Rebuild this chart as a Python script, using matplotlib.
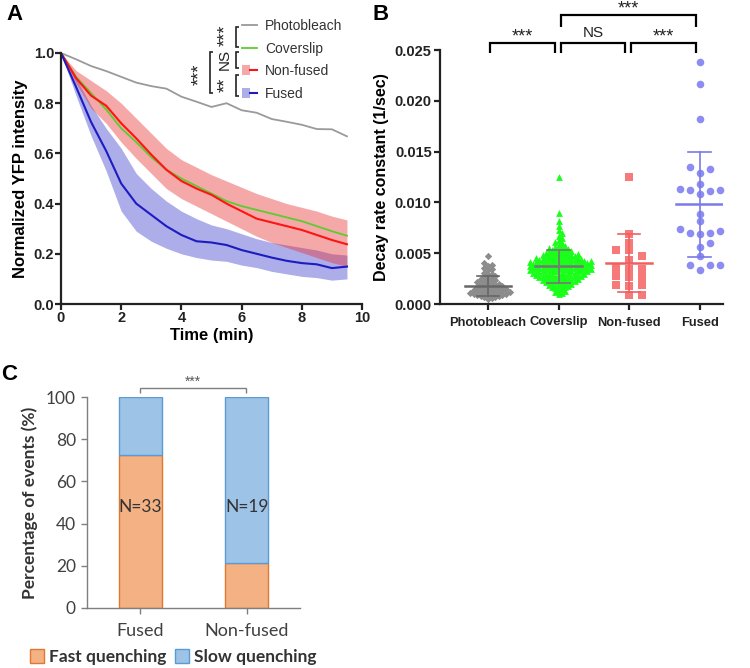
import numpy as np
import matplotlib
matplotlib.use("Agg")
from matplotlib import pyplot as plt
from matplotlib.lines import Line2D
from matplotlib.patches import Patch
from matplotlib.legend_handler import HandlerTuple

# ---------------- data: panel A (decay curves) ----------------
t = [0, 0.5, 1, 1.5, 2, 2.5, 3, 3.5, 4, 4.5, 5, 5.5, 6, 6.5, 7, 7.5, 8, 8.5, 9, 9.5]
photobleach = [1.0, 0.975, 0.948, 0.928, 0.905, 0.882, 0.868, 0.858, 0.826, 0.806,
               0.785, 0.800, 0.772, 0.762, 0.737, 0.726, 0.714, 0.697, 0.696, 0.668]
coverslip = [1.0, 0.905, 0.84, 0.775, 0.70, 0.645, 0.585, 0.535, 0.50, 0.47,
             0.44, 0.41, 0.39, 0.375, 0.36, 0.345, 0.33, 0.31, 0.29, 0.272]
nonfused = [1.0, 0.90, 0.83, 0.79, 0.72, 0.66, 0.595, 0.535, 0.49, 0.46,
            0.435, 0.40, 0.37, 0.34, 0.325, 0.31, 0.295, 0.275, 0.255, 0.238]
nonfused_hi = [1.0, 0.93, 0.89, 0.85, 0.80, 0.74, 0.68, 0.62, 0.575, 0.545,
               0.515, 0.49, 0.465, 0.44, 0.42, 0.40, 0.385, 0.37, 0.35, 0.335]
nonfused_lo = [1.0, 0.88, 0.78, 0.72, 0.645, 0.58, 0.52, 0.46, 0.42, 0.39,
               0.36, 0.33, 0.30, 0.27, 0.245, 0.225, 0.205, 0.185, 0.165, 0.15]
fused = [1.0, 0.865, 0.725, 0.61, 0.48, 0.40, 0.355, 0.31, 0.275, 0.25,
         0.245, 0.235, 0.215, 0.20, 0.185, 0.172, 0.163, 0.158, 0.143, 0.149]
fused_hi = [1.0, 0.90, 0.79, 0.70, 0.62, 0.52, 0.46, 0.41, 0.37, 0.34,
            0.315, 0.30, 0.28, 0.26, 0.245, 0.235, 0.225, 0.215, 0.20, 0.195]
fused_lo = [1.0, 0.83, 0.67, 0.53, 0.37, 0.29, 0.25, 0.222, 0.20, 0.185,
            0.175, 0.17, 0.155, 0.145, 0.13, 0.12, 0.11, 0.105, 0.095, 0.10]

# ---------------- data: panel B (decay rate constants) ----------------
groups_b = ["Photobleach", "Coverslip", "Non-fused", "Fused"]
k_photobleach = [0.0047, 0.0040, 0.0038, 0.0037, 0.0035, 0.0034, 0.0033, 0.0031, 0.0030,
                 0.0029, 0.0028, 0.0027, 0.0026, 0.0025, 0.0025, 0.0024, 0.0023, 0.0022,
                 0.0022, 0.0021, 0.0020, 0.0020, 0.0019, 0.0019, 0.0018, 0.0018, 0.0017,
                 0.0017, 0.0016, 0.0016, 0.0015, 0.0015, 0.0015, 0.0014, 0.0014, 0.0013,
                 0.0013, 0.0013, 0.0012, 0.0012, 0.0012, 0.0011, 0.0011, 0.0011, 0.0010,
                 0.0010, 0.0010, 0.0009, 0.0009, 0.0009, 0.0008, 0.0008, 0.0007, 0.0007,
                 0.0006, 0.0005]
k_coverslip = [0.0125, 0.0090, 0.0082, 0.0077, 0.0073, 0.0070, 0.0067, 0.0065, 0.0063,
               0.0061, 0.0060, 0.0058, 0.0057, 0.0056, 0.0055, 0.0055, 0.0054, 0.0054,
               0.0053, 0.0053, 0.0052, 0.0052, 0.0051, 0.0051, 0.0050, 0.0050, 0.0050,
               0.0049, 0.0049, 0.0049, 0.0048, 0.0048, 0.0048, 0.0047, 0.0047, 0.0047,
               0.0046, 0.0046, 0.0046, 0.0045, 0.0045, 0.0045, 0.0045, 0.0044, 0.0044,
               0.0044, 0.0044, 0.0043, 0.0043, 0.0043, 0.0043, 0.0042, 0.0042, 0.0042,
               0.0042, 0.0042, 0.0041, 0.0041, 0.0041, 0.0041, 0.0041, 0.0040, 0.0040,
               0.0040, 0.0040, 0.0040, 0.0039, 0.0039, 0.0039, 0.0039, 0.0039, 0.0038,
               0.0038, 0.0038, 0.0038, 0.0038, 0.0037, 0.0037, 0.0037, 0.0037, 0.0037,
               0.0036, 0.0036, 0.0036, 0.0036, 0.0036, 0.0035, 0.0035, 0.0035, 0.0035,
               0.0035, 0.0034, 0.0034, 0.0034, 0.0034, 0.0034, 0.0033, 0.0033, 0.0033,
               0.0033, 0.0033, 0.0032, 0.0032, 0.0032, 0.0032, 0.0032, 0.0031, 0.0031,
               0.0031, 0.0031, 0.0031, 0.0030, 0.0030, 0.0030, 0.0030, 0.0029, 0.0029,
               0.0029, 0.0029, 0.0028, 0.0028, 0.0028, 0.0028, 0.0027, 0.0027, 0.0027,
               0.0027, 0.0026, 0.0026, 0.0026, 0.0025, 0.0025, 0.0025, 0.0024, 0.0024,
               0.0024, 0.0023, 0.0023, 0.0023, 0.0022, 0.0022, 0.0022, 0.0021, 0.0021,
               0.0020, 0.0020, 0.0019, 0.0019, 0.0018, 0.0018, 0.0017, 0.0017, 0.0016,
               0.0015, 0.0014, 0.0013, 0.0012, 0.0011, 0.0010]
k_nonfused = [0.0125, 0.0069, 0.0060, 0.0053, 0.0053, 0.0047, 0.0043, 0.0035, 0.0034,
              0.0034, 0.0028, 0.0027, 0.0027, 0.0019, 0.0019, 0.0018, 0.0009, 0.0009]
k_fused = [0.0238, 0.0217, 0.0182, 0.0135, 0.0133, 0.0129, 0.0118, 0.0113, 0.0112,
           0.0112, 0.0111, 0.0108, 0.0089, 0.0082, 0.0074, 0.0072, 0.0070, 0.0070,
           0.0069, 0.0060, 0.0056, 0.0047, 0.0038, 0.0038, 0.0038, 0.0033]
mean_b = [0.0018, 0.0037, 0.0040, 0.0098]
sd_hi_b = [0.0028, 0.0053, 0.0069, 0.0150]
sd_lo_b = [0.0008, 0.0021, 0.0012, 0.0046]

# ---------------- data: panel C (stacked percentages) ----------------
groups_c = ["Fused", "Non-fused"]
fast_pct = [72.7, 21.1]
slow_pct = [27.3, 78.9]
n_events = ["N=33", "N=19"]

W, H = 750, 668
fig = plt.figure(figsize=(7.5, 6.68), dpi=100)

def fx(x):
    return x / W

def fy(y):
    return 1 - y / H

def seg(xs, ys, color="black", lw=1.5):
    fig.add_artist(Line2D([fx(v) for v in xs], [fy(v) for v in ys], color=color, lw=lw,
                          solid_capstyle="butt", solid_joinstyle="miter"))

arial = "Liberation Sans"

# ================= panel A =================
axA = fig.add_axes([fx(61), fy(304), fx(362) - fx(61), fy(53) - fy(304)])
axA.fill_between(t, fused_lo, fused_hi, color="#3333cc", alpha=0.4, lw=0)
axA.fill_between(t, nonfused_lo, nonfused_hi, color="#e83030", alpha=0.42, lw=0)
axA.plot(t, photobleach, color="#9a9a9a", lw=1.3)
axA.plot(t, coverslip, color="#5ccc2e", lw=1.3)
axA.plot(t, nonfused, color="#ff1414", lw=1.5)
axA.plot(t, fused, color="#1c1cc0", lw=1.5)
axA.set_xlim(0, 10)
axA.set_ylim(0, 1.0)
axA.set_xticks([0, 2, 4, 6, 8, 10])
axA.set_yticks([0.0, 0.2, 0.4, 0.6, 0.8, 1.0])
axA.set_yticklabels(["0.0", "0.2", "0.4", "0.6", "0.8", "1.0"])
for s in ["top", "right"]:
    axA.spines[s].set_visible(False)
for s in ["left", "bottom"]:
    axA.spines[s].set_linewidth(1.6)
    axA.spines[s].set_color("#222222")
axA.tick_params(width=1.6, length=4, labelsize=10.5, colors="#222222", pad=1)
for lab in axA.get_xticklabels() + axA.get_yticklabels():
    lab.set_fontweight("bold")
    lab.set_family(arial)
axA.set_xlabel("Time (min)", fontsize=12, fontweight="bold", family=arial, labelpad=2)
axA.set_ylabel("Normalized YFP intensity", fontsize=12, fontweight="bold", family=arial, labelpad=4)

hA = [Line2D([], [], color="#9a9a9a", lw=1.3),
      Line2D([], [], color="#5ccc2e", lw=1.3),
      (Patch(color="#e83030", alpha=0.42, lw=0), Line2D([], [], color="#ff1414", lw=1.5)),
      (Patch(color="#3333cc", alpha=0.4, lw=0), Line2D([], [], color="#1c1cc0", lw=1.5))]
axA.legend(hA, ["Photobleach", "Coverslip", "Non-fused", "Fused"],
           handler_map={tuple: HandlerTuple(ndivide=None)},
           loc="upper left", bbox_to_anchor=(fx(242), fy(19)), bbox_transform=fig.transFigure,
           frameon=False, prop={"family": arial, "size": 10}, labelcolor="#333333",
           labelspacing=0.62, handlelength=1.1, handletextpad=0.55, borderpad=0, borderaxespad=0)

# significance brackets beside the legend
def vbracket(x, y0, y1):
    seg([x + 3, x, x, x + 3], [y0, y0, y1, y1], color="#222222", lw=1.2)

vbracket(236, 27, 47)
vbracket(236, 52, 68)
vbracket(236, 75, 96)
vbracket(210, 52, 93)
star_kw = dict(rotation=90, ha="center", va="center", fontsize=13, family=arial, color="#222222")
fig.text(fx(226), fy(35), "***", **star_kw)
fig.text(fx(225), fy(59), "NS", rotation=90, ha="center", va="center", fontsize=11, family=arial, color="#222222")
fig.text(fx(226), fy(85), "**", **star_kw)
fig.text(fx(200), fy(74), "***", **star_kw)

# ================= panel B =================
axB = fig.add_axes([fx(440), fy(304), fx(723) - fx(440), fy(50) - fy(304)])
axB.set_xlim(-0.68, 3.33)
axB.set_ylim(0, 0.025)

bb = axB.get_window_extent()
px_per_x = bb.width / (3.33 + 0.68)
px_per_y = bb.height / 0.025

def swarm(vals, step, h):
    # grid beeswarm: columns `step` px apart, points in one column at least `h` px apart
    order = np.argsort(vals)
    ys = np.array(vals)[order] * px_per_y
    cols = {}
    xs = np.zeros(len(ys))
    for i, y in enumerate(ys):
        k = 0
        while True:
            for c in ([0] if k == 0 else [k, -k]):
                if all(abs(y - py) >= h for py in cols.get(c, [])):
                    cols.setdefault(c, []).append(y)
                    xs[i] = c * step
                    break
            else:
                k += 1
                continue
            break
    out = np.zeros(len(ys))
    out[order] = xs / px_per_x
    return out

data_b = [k_photobleach, k_coverslip, k_nonfused, k_fused]
marks_b = ["D", "^", "s", "o"]
colors_b = ["#8c8c8c", "#1aff1a", "#f77a7a", "#8c8cf2"]
sizes_b = [14, 24, 26, 30]
steps_b = [3.6, 3.2, 13, 10]
gaps_b = [3.6, 3.1, 6.5, 7]
line_b = ["#666666", "#777777", "#f06060", "#7a7ae8"]
for i in range(4):
    off = swarm(data_b[i], steps_b[i], gaps_b[i])
    axB.scatter(i + off, data_b[i], marker=marks_b[i], s=sizes_b[i], color=colors_b[i],
                lw=0, zorder=2, clip_on=False)
for i in range(4):
    axB.plot([i - 0.33, i + 0.33], [mean_b[i], mean_b[i]], color=line_b[i], lw=1.8, zorder=3)
    axB.plot([i, i], [sd_lo_b[i], sd_hi_b[i]], color=line_b[i], lw=1.2, zorder=3)
    for v in [sd_lo_b[i], sd_hi_b[i]]:
        axB.plot([i - 0.16, i + 0.16], [v, v], color=line_b[i], lw=1.2, zorder=3)

axB.set_xticks(range(4))
axB.set_xticklabels(groups_b)
axB.set_yticks([0.0, 0.005, 0.010, 0.015, 0.020, 0.025])
axB.set_yticklabels(["0.000", "0.005", "0.010", "0.015", "0.020", "0.025"])
for s in ["top", "right"]:
    axB.spines[s].set_visible(False)
for s in ["left", "bottom"]:
    axB.spines[s].set_linewidth(1.6)
    axB.spines[s].set_color("#222222")
axB.tick_params(width=1.6, length=4, colors="#222222", pad=2)
axB.tick_params(axis="y", labelsize=10.5)
axB.tick_params(axis="x", labelsize=9.3, pad=5)
for lab in axB.get_xticklabels() + axB.get_yticklabels():
    lab.set_fontweight("bold")
    lab.set_family(arial)
axB.set_ylabel("Decay rate constant (1/sec)", fontsize=11.5, fontweight="bold", family=arial, labelpad=4)

def ubracket(x0, x1, ytop, ybot):
    seg([x0, x0, x1, x1], [ybot, ytop, ytop, ybot], color="black", lw=1.6)

ubracket(490, 555, 43, 53)
ubracket(561, 625, 43, 53)
ubracket(631, 696, 43, 53)
ubracket(561, 696, 15, 27)
stars_b = dict(ha="center", va="center", fontsize=13, family=arial, color="#222222")
fig.text(fx(522), fy(37), "***", **stars_b)
fig.text(fx(593), fy(33), "NS", ha="center", va="center", fontsize=11, family=arial, color="#222222")
fig.text(fx(663), fy(37), "***", **stars_b)
fig.text(fx(628), fy(9), "***", **stars_b)

# ================= panel C =================
calibri = "Lato"
axC = fig.add_axes([fx(87), fy(608), fx(300) - fx(87), fy(397) - fy(608)])
xc = np.arange(len(groups_c))
axC.bar(xc, fast_pct, width=0.4, color="#f4b183", edgecolor="#e0792f", lw=1.0, label="Fast quenching")
axC.bar(xc, slow_pct, width=0.4, bottom=fast_pct, color="#9dc3e6", edgecolor="#5b9bd5", lw=1.0,
        label="Slow quenching")
for i in range(2):
    axC.text(xc[i], 48, n_events[i], ha="center", va="center", fontsize=12.5, family=calibri, color="#333333")
axC.set_xlim(-0.5, 1.5)
axC.set_ylim(0, 100)
axC.set_yticks([0, 20, 40, 60, 80, 100])
axC.set_xticks(xc)
axC.set_xticklabels(groups_c)
for s in ["top", "right"]:
    axC.spines[s].set_visible(False)
for s in ["left", "bottom"]:
    axC.spines[s].set_color("#7f7f7f")
    axC.spines[s].set_linewidth(1.0)
axC.tick_params(colors="#7f7f7f", width=1.0, length=4)
axC.tick_params(axis="y", labelsize=12.5, labelcolor="#404040", pad=4)
axC.tick_params(axis="x", labelsize=13, labelcolor="#404040", pad=7)
for lab in axC.get_xticklabels() + axC.get_yticklabels():
    lab.set_family(calibri)
axC.set_ylabel("Percentage of events (%)", fontsize=12.5, fontweight="bold", family=calibri,
               color="#333333", labelpad=6)
axC.legend(loc="center left", bbox_to_anchor=(fx(30), fy(657)), bbox_transform=fig.transFigure,
           ncol=2, frameon=False, prop={"family": calibri, "size": 12.5, "weight": "bold"},
           labelcolor="#333333", handlelength=0.8, handleheight=0.8, handletextpad=0.3,
           columnspacing=0.5, borderpad=0, borderaxespad=0)
seg([140, 140, 246, 246], [393, 388, 388, 393], color="#7f7f7f", lw=1.0)
fig.text(fx(193), fy(382), "***", ha="center", va="center", fontsize=10, family=arial, color="#595959")

# panel letters
fig.text(fx(6), fy(14), "A", fontsize=16, fontweight="bold", family=arial, va="center", ha="left")
fig.text(fx(372), fy(14), "B", fontsize=16, fontweight="bold", family=arial, va="center", ha="left")
fig.text(fx(1), fy(375), "C", fontsize=16, fontweight="bold", family=arial, va="center", ha="left")

fig.savefig("out.png", dpi=100)
